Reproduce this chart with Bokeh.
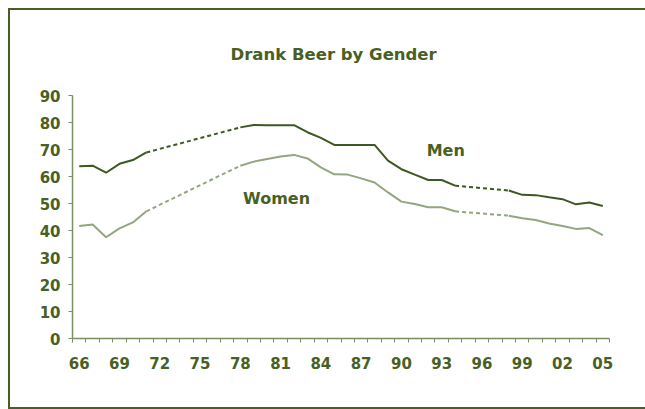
from bokeh.plotting import figure
from bokeh.models import Range1d, FixedTicker, Label
from bokeh.embed import file_html
from bokeh.resources import INLINE

# ---- data ----
years = list(range(1966, 2006))
men = [63.8, 64.0, 61.4, 64.7, 66.1, 68.9,
       None, None, None, None, None, None,
       78.2, 79.1, 79.0, 79.0, 79.0, 76.4, 74.3, 71.7, 71.7, 71.7, 71.7,
       65.9, 62.7, 60.7, 58.7, 58.7, 56.6,
       None, None, None,
       54.8, 53.2, 53.1, 52.3, 51.6, 49.7, 50.4, 49.1]
women = [41.7, 42.2, 37.5, 40.8, 43.0, 47.1,
         None, None, None, None, None, None,
         64.0, 65.5, 66.5, 67.4, 68.0, 66.7, 63.4, 60.8, 60.7, 59.3, 57.8,
         54.1, 50.7, 49.8, 48.6, 48.6, 47.1,
         None, None, None,
         45.5, 44.5, 43.9, 42.6, 41.7, 40.6, 40.9, 38.3]
label_years = list(range(1966, 2006, 3))
tick_labels = ["%02d" % (y % 100) for y in label_years]
y_ticks = list(range(0, 100, 10))
title_text = "Drank Beer by Gender"
series_names = ["Men", "Women"]

TEXT = "#4a5f22"
AXIS = "#7d8c62"
MEN_C = "#3d5820"
WOMEN_C = "#93a67e"
FONT = "DejaVu Sans"

p = figure(width=640, height=401, output_backend="svg", toolbar_location=None,
           x_range=Range1d(1965.5, 2005.5), y_range=Range1d(0, 90),
           min_border_left=62, min_border_right=41, min_border_top=85,
           min_border_bottom=73)
p.margin = (8, 0, 0, 8)
p.styles = {"border": "2px solid #4a5e23"}
p.outline_line_color = None
p.xgrid.visible = False
p.ygrid.visible = False
p.background_fill_color = "white"
p.border_fill_color = "white"

p.title.text = title_text
p.title.align = "left"
p.title.text_font = FONT
p.title.text_font_size = "16.5px"
p.title.text_font_style = "bold"
p.title.text_color = TEXT
p.title.standoff = 64
p.title.offset = 158


def to_nan(a):
    return [float("nan") if v is None else v for v in a]


def gaps(a):
    segs = []
    i = 0
    n = len(a)
    while i < n:
        if a[i] is None:
            j = i
            while j < n and a[j] is None:
                j += 1
            if i > 0 and j < n:
                segs.append(([years[i - 1], years[j]], [a[i - 1], a[j]]))
            i = j
        else:
            i += 1
    return segs


for data, col in ((men, MEN_C), (women, WOMEN_C)):
    p.line(years, to_nan(data), line_color=col, line_width=2)
    for xs, ys in gaps(data):
        p.line(xs, ys, line_color=col, line_width=2, line_dash="4 3")

# axes
xa = p.xaxis[0]
boundaries = [y - 0.5 for y in years] + [years[-1] + 0.5]
xa.ticker = FixedTicker(ticks=label_years, minor_ticks=boundaries)
xa.major_label_overrides = {y: t for y, t in zip(label_years, tick_labels)}
xa.major_tick_line_color = None
xa.major_tick_out = 4
xa.major_tick_in = 0
xa.minor_tick_line_color = AXIS
xa.minor_tick_out = 4
xa.minor_tick_in = 0
xa.major_label_standoff = 14

ya = p.yaxis[0]
ya.ticker = FixedTicker(ticks=y_ticks, minor_ticks=[])
ya.major_tick_line_color = AXIS
ya.major_tick_out = 4
ya.major_tick_in = 0
ya.minor_tick_line_color = None
ya.major_label_standoff = 8

for ax in (xa, ya):
    ax.axis_line_color = AXIS
    ax.axis_line_width = 1.5
    ax.major_label_text_font = FONT
    ax.major_label_text_font_size = "15px"
    ax.major_label_text_font_style = "bold"
    ax.major_label_text_color = TEXT

# series labels
for name, x, y in ((series_names[0], 1993.3, 69.6), (series_names[1], 1980.7, 51.8)):
    p.add_layout(Label(x=x, y=y, text=name, text_font=FONT, text_font_size="16px",
                       text_font_style="bold", text_color=TEXT, text_align="center",
                       text_baseline="middle"))

open("out.html", "w").write(file_html(p, INLINE))
